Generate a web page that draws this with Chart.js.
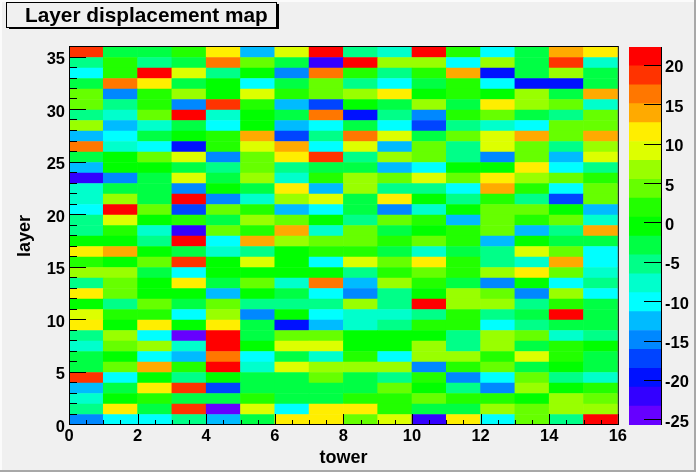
<!DOCTYPE html>
<html>
<head>
<meta charset="utf-8">
<title>Layer displacement map</title>
<script src="https://cdn.jsdelivr.net/npm/chart.js@4"></script>
<style>
  html, body { margin: 0; padding: 0; background: #f0f0f0; overflow: hidden; }
  #marco { position: relative; width: 696px; height: 472px; overflow: hidden; }
  canvas { position: absolute; top: 0; }
  #mapa { left: 0; }
  #paleta { left: 629px; }
  .borde { position: absolute; }
  #borde-izq { left: 0; top: 0; width: 2px; height: 472px; background: #fbfbfb; }
  #borde-sup { left: 0; top: 0; width: 696px; height: 2px; background: #fbfbfb; }
  #borde-der { right: 0; top: 0; width: 2px; height: 472px; background: #a8a8a8; }
  #borde-inf { left: 0; bottom: 0; width: 696px; height: 2px; background: #a8a8a8; }
</style>
</head>
<body>
<div id="marco">
  <canvas id="mapa" width="629" height="472"></canvas>
  <canvas id="paleta" width="67" height="472"></canvas>
  <div class="borde" id="borde-izq"></div>
  <div class="borde" id="borde-sup"></div>
  <div class="borde" id="borde-der"></div>
  <div class="borde" id="borde-inf"></div>
</div>
<script>
const titulo = 'Layer displacement map';
const ejeX = 'tower';
const ejeY = 'layer';

const towerTicks = [0, 2, 4, 6, 8, 10, 12, 14, 16];
const layerTicks = [0, 5, 10, 15, 20, 25, 30, 35];
const paletteTicks = [-25, -20, -15, -10, -5, 0, 5, 10, 15, 20];

// contour edges of the palette, bottom to top
const levels = [-25.6, -23.2, -20.8, -18.4, -16, -13.6, -11.2, -8.8, -6.4, -4, -1.6, 0.8, 3.2, 5.6, 8, 10.4, 12.8, 15.2, 17.6, 20, 22.4];
const colores = ['#6600ff', '#3300ff', '#0011ff', '#0044ff', '#0088ff', '#00bbff', '#00ffff', '#00ffcc', '#00ff88', '#00ff44',
  '#00ff00', '#22ff00', '#66ff00', '#99ff00', '#ddff00', '#ffee00', '#ffaa00', '#ff7700', '#ff3300', '#ff0000'];

// values read per layer, one per tower (0..15)
const layer0 = [-15, -10, -10, -5, -12, -3, 12, 12, 5, 9, -22, 12, -10, 5, -5, 21];
const layer1 = [-5, 12, -3, 19, -24, 9, -10, 12, 12, 2, -3, -3, 7, 5, 7, 7];
const layer2 = [-7, 0, 2, -3, -3, 2, -3, -3, 2, 2, 5, 2, 2, 0, 7, 5];
const layer3 = [-12, -3, 12, 19, -17, -3, -3, -3, -3, 5, 0, -5, -15, 7, 0, 2];
const layer4 = [19, -10, 0, -5, 0, -3, -3, 5, -3, -5, 2, -15, -10, 5, -5, -7];
const layer5 = [-3, 5, 14, 2, 21, -7, 9, 7, 7, 7, -15, 2, 5, -3, 0, -3];
const layer6 = [-3, 0, -10, -12, 16, -10, -3, -7, 2, -10, 7, 7, 2, 9, 2, -3];
const layer7 = [-7, 5, 7, -7, 21, 0, 9, 9, 0, 0, 7, -5, 7, -3, 2, 0];
const layer8 = [-5, 7, -10, -24, 21, -3, 5, 5, 0, 0, 0, -5, 7, 5, -7, -5];
const layer9 = [12, 0, 12, 0, 12, -3, -19, -12, -7, -5, 2, 2, -10, -5, -3, -3];
const layer10 = [9, 2, 2, -10, 7, -15, 0, -10, -7, -7, -5, 2, -5, -3, 21, -3];
const layer11 = [0, -5, 5, -3, 5, -5, -5, -5, 7, -5, 21, 7, 7, -5, 2, -3];
const layer12 = [12, 5, 0, 0, -12, 0, -3, -10, -15, -5, 0, 7, 5, -15, 7, -10];
const layer13 = [-5, 5, 0, 12, -3, 5, -7, 16, -12, 7, 2, -3, -15, 0, -10, -5];
const layer14 = [7, 7, -3, -10, 0, 0, 0, 0, -5, 2, 5, 2, 7, 12, 5, -7];
const layer15 = [2, 0, 5, 19, 0, 9, 0, -10, 9, 5, 12, 2, -5, -7, 14, -10];
const layer16 = [12, 14, 0, -3, -7, -5, 0, 2, 2, -3, -7, -3, -5, 9, 5, -10];
const layer17 = [0, 0, -5, 21, -10, 14, 7, 5, 5, 2, 5, 2, -12, 0, -3, -3];
const layer18 = [-5, 2, -7, -22, 5, 2, 14, -7, 5, -3, 0, 2, 5, -12, -5, 14];
const layer19 = [-5, 9, 0, 2, -3, 7, 5, 0, -5, 5, 2, -12, 5, 2, 5, -7];
const layer20 = [-10, 21, 5, -17, 5, 2, -12, -10, -3, -15, -7, 0, 5, 5, 0, -12];
const layer21 = [-7, 7, -3, 21, -15, -7, 7, 9, -3, 12, 0, -5, 2, -5, -17, 5];
const layer22 = [-7, -3, -3, -15, 0, -3, 12, -12, 7, -5, -5, -10, 14, 2, -10, 5];
const layer23 = [-22, -15, -3, 9, -3, 7, -7, 2, 7, 5, 9, 5, 12, 7, 5, 2];
const layer24 = [-12, 0, 0, -3, -5, 5, -5, -3, -3, -12, -10, 0, 0, 12, -10, -5];
const layer25 = [-3, 0, 5, 9, -15, 5, 12, 19, -5, 7, 5, -5, -15, 5, -12, 9];
const layer26 = [16, -7, -10, -19, 2, 9, 14, -10, 9, -12, 5, -5, 9, 5, -5, 7];
const layer27 = [-12, -10, -3, 0, 2, 14, -17, -5, 16, 9, -3, 5, 9, 14, 5, 14];
const layer28 = [7, -12, -7, -3, -10, 0, -12, -10, -3, -10, -17, -5, -7, -10, 5, 5];
const layer29 = [-5, -7, 5, 21, -7, 0, -3, 16, -19, -5, -15, 2, 5, -3, -5, 5];
const layer30 = [5, -5, 2, -15, 19, 2, -12, -17, 0, -3, 7, -3, 12, 7, 5, -7];
const layer31 = [5, -15, 2, 7, 0, 9, 2, 5, 7, 12, 0, 2, 0, 7, -3, 14];
const layer32 = [-3, 16, 12, -3, 0, -10, -3, 5, -5, -10, -3, 2, -10, -19, -19, -3];
const layer33 = [-10, 2, 21, 9, -5, 0, -15, 16, 2, -5, 2, 14, -19, -3, 7, -3];
const layer34 = [-5, 2, -5, -3, 16, 5, -3, -22, 21, 7, 7, -10, 7, -3, 19, -7];
const layer35 = [19, -3, -3, 2, 12, -12, 9, 21, -5, -7, 21, 2, -10, -3, 14, 12];

const capas = [layer0, layer1, layer2, layer3, layer4, layer5, layer6, layer7, layer8, layer9, layer10, layer11,
  layer12, layer13, layer14, layer15, layer16, layer17, layer18, layer19, layer20, layer21, layer22, layer23,
  layer24, layer25, layer26, layer27, layer28, layer29, layer30, layer31, layer32, layer33, layer34, layer35];

const arriba = 47, abajo = 47;
const letra = { family: 'Liberation Sans', size: 16.5, weight: 'bold' };
const letraEje = { family: 'Liberation Sans', size: 18, weight: 'bold' };

function colorDe(valor) {
  for (let i = 0; i < colores.length; i++) {
    if (valor < levels[i + 1]) return colores[i];
  }
  return colores[colores.length - 1];
}

function fijarTicks(valores) {
  return scale => { scale.ticks = valores.map(value => ({ value })); };
}

// one row of floating bars per layer
const filas = capas.map((fila, capa) => ({
  data: fila.map((valor, torre) => ({ x: torre + 0.5, y: [capa, capa + 1], valor })),
  backgroundColor: fila.map(colorDe),
  borderWidth: 0,
  grouped: false,
  barPercentage: 1,
  categoryPercentage: 1
}));

// root draws its ticks inside the frame, over the cells
const marcasMapa = {
  id: 'marcasMapa',
  afterDatasetsDraw(chart) {
    const { ctx, chartArea: a, scales: { x, y } } = chart;
    ctx.save();
    ctx.strokeStyle = '#000';
    ctx.lineWidth = 1;
    ctx.beginPath();
    for (let t = 0; t <= 32; t++) {
      const px = Math.round(x.getPixelForValue(t / 2)) + 0.5;
      ctx.moveTo(px, a.bottom);
      ctx.lineTo(px, a.bottom - (t % 4 === 0 ? 11 : 5));
    }
    for (let l = 0; l <= 36; l++) {
      const py = Math.round(y.getPixelForValue(l)) - 0.5;
      ctx.moveTo(a.left, py);
      ctx.lineTo(a.left + (l % 5 === 0 ? 17 : 8), py);
    }
    ctx.stroke();
    ctx.strokeRect(a.left + 0.5, a.top - 0.5, a.right - a.left, a.bottom - a.top);
    ctx.restore();
  },
  beforeDraw(chart) {
    const { ctx } = chart;
    ctx.save();
    ctx.fillStyle = '#000';
    ctx.fillRect(9, 4, 270, 25);
    ctx.fillStyle = '#f0f0f0';
    ctx.fillRect(7, 2, 270, 25);
    ctx.strokeStyle = '#000';
    ctx.lineWidth = 1;
    ctx.strokeRect(6.5, 2.5, 270, 25);
    ctx.fillStyle = '#000';
    ctx.font = 'bold 20.8px "Liberation Sans"';
    ctx.textBaseline = 'alphabetic';
    ctx.fillText(titulo, 25, 22);
    ctx.restore();
  }
};

new Chart(document.getElementById('mapa'), {
  type: 'bar',
  data: { datasets: filas },
  plugins: [marcasMapa],
  options: {
    responsive: false,
    animation: false,
    layout: { padding: { top: arriba, right: 3 } },
    plugins: { legend: { display: false }, tooltip: { enabled: false } },
    scales: {
      x: {
        type: 'linear',
        min: 0,
        max: 16,
        offset: false,
        afterBuildTicks: fijarTicks(towerTicks),
        afterFit: s => { s.height = abajo; },
        grid: { display: false, drawTicks: false },
        border: { display: false },
        ticks: { color: '#000', font: letra, padding: 2, maxRotation: 0, autoSkip: false },
        title: { display: true, text: ejeX, color: '#000', font: letraEje, padding: { top: 0, bottom: 3 } }
      },
      y: {
        type: 'linear',
        min: 0,
        max: 36,
        afterBuildTicks: fijarTicks(layerTicks),
        afterFit: s => { s.width = 69; },
        grid: { display: false, drawTicks: false },
        border: { display: false },
        ticks: { color: '#000', font: letra, padding: 4, labelOffset: 2, autoSkip: false },
        title: { display: true, text: ejeY, color: '#000', font: letraEje, padding: { top: 14, bottom: 0 } }
      }
    }
  }
});

const marcasPaleta = {
  id: 'marcasPaleta',
  afterDatasetsDraw(chart) {
    const { ctx, chartArea: a, scales: { y } } = chart;
    ctx.save();
    ctx.strokeStyle = '#000';
    ctx.lineWidth = 1;
    ctx.beginPath();
    paletteTicks.forEach(v => {
      const py = Math.round(y.getPixelForValue(v)) - 0.5;
      ctx.moveTo(a.right, py);
      ctx.lineTo(a.right - 17, py);
    });
    ctx.moveTo(a.right + 0.5, a.top);
    ctx.lineTo(a.right + 0.5, a.bottom);
    ctx.stroke();
    ctx.restore();
  }
};

new Chart(document.getElementById('paleta'), {
  type: 'bar',
  data: {
    labels: ['z'],
    datasets: colores.map((c, i) => ({
      data: [[levels[i], levels[i + 1]]],
      backgroundColor: c,
      borderWidth: 0,
      grouped: false,
      barPercentage: 1,
      categoryPercentage: 1
    }))
  },
  plugins: [marcasPaleta],
  options: {
    responsive: false,
    animation: false,
    layout: { padding: { top: arriba, bottom: abajo, left: 0, right: 0 } },
    plugins: { legend: { display: false }, tooltip: { enabled: false } },
    scales: {
      x: { display: false },
      y: {
        type: 'linear',
        position: 'right',
        min: levels[0],
        max: levels[levels.length - 1],
        afterBuildTicks: fijarTicks(paletteTicks),
        afterFit: s => { s.width = 35; },
        grid: { display: false, drawTicks: false },
        border: { display: false },
        ticks: { color: '#000', font: letra, padding: 4, labelOffset: 2, autoSkip: false }
      }
    }
  }
});
</script>
</body>
</html>
